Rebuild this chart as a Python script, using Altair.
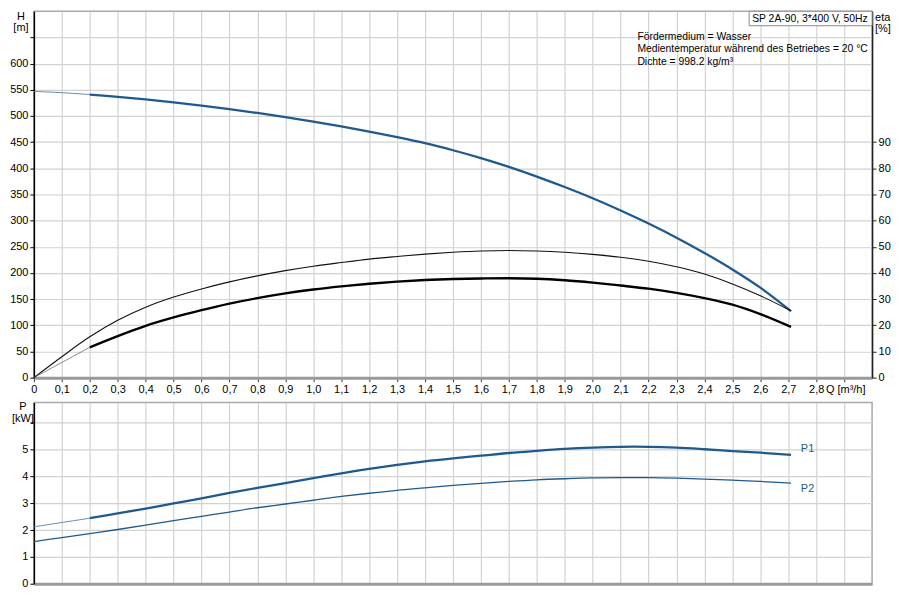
import altair as alt
import pandas as pd

# ---------------- data ----------------
Q = [0.0, 0.1, 0.2, 0.3, 0.4, 0.5, 0.6, 0.7, 0.8, 0.9, 1.0, 1.1, 1.2, 1.3,
     1.4, 1.5, 1.6, 1.7, 1.8, 1.9, 2.0, 2.1, 2.2, 2.3, 2.4, 2.5, 2.6, 2.71]
H = [547, 544.5, 541, 536.7, 531.7, 526.1, 519.9, 513.1, 505.7, 497.7, 489.2, 480, 470.2, 459.6,
     448, 434.5, 419.5, 402.7, 384.2, 364.2, 342.7, 319.5, 294.5, 267.5, 238.3, 206.8, 172, 127]
ETA_PUMP = [0, 8.0, 15.6, 21.9, 26.9, 30.8, 33.9, 36.6, 38.9, 40.9, 42.6, 44.0, 45.3, 46.3,
            47.2, 47.9, 48.4, 48.6, 48.4, 47.9, 47.1, 46.0, 44.5, 42.4, 39.6, 35.8, 31.3, 25.5]
ETA_TOTAL = [0, 5.8, 11.6, 15.9, 19.8, 23.0, 25.8, 28.3, 30.4, 32.2, 33.7, 34.9, 35.9, 36.7,
             37.3, 37.7, 37.9, 38.0, 37.8, 37.2, 36.3, 35.2, 34.0, 32.4, 30.4, 27.9, 24.3, 19.4]
P1 = [2.12, 2.28, 2.44, 2.62, 2.80, 2.99, 3.18, 3.38, 3.57, 3.75, 3.93, 4.11, 4.28, 4.43,
      4.56, 4.67, 4.77, 4.87, 4.95, 5.02, 5.07, 5.10, 5.10, 5.07, 5.01, 4.94, 4.88, 4.80]
P2 = [1.57, 1.72, 1.87, 2.02, 2.18, 2.35, 2.51, 2.67, 2.83, 2.97, 3.11, 3.25, 3.37, 3.48,
      3.57, 3.66, 3.74, 3.81, 3.87, 3.91, 3.94, 3.95, 3.95, 3.93, 3.90, 3.86, 3.81, 3.75]

X_TICKS = [0.0, 0.1, 0.2, 0.3, 0.4, 0.5, 0.6, 0.7, 0.8, 0.9, 1.0, 1.1, 1.2, 1.3, 1.4,
           1.5, 1.6, 1.7, 1.8, 1.9, 2.0, 2.1, 2.2, 2.3, 2.4, 2.5, 2.6, 2.7, 2.8, 2.9]
H_TICKS = [0, 50, 100, 150, 200, 250, 300, 350, 400, 450, 500, 550, 600, 650]
ETA_TICKS = [0, 10, 20, 30, 40, 50, 60, 70, 80, 90]
P_TICKS = [0, 1, 2, 3, 4, 5, 6]

INFO = ["Fördermedium = Wasser",
        "Medientemperatur während des Betriebes = 20 °C",
        "Dichte = 998.2 kg/m³"]
PUMP = "SP 2A-90, 3*400 V, 50Hz"
Q_TITLE = "Q [m³/h]"

# ---------------- styling ----------------
BLUE = "#1f5a8e"
BLUE_THIN = "#5f86ad"
GRID = "#d2d2d2"
FONT = "Liberation Sans"
W, HT, HB = 842, 368, 182
INTERP = "catmull-rom"


def segments(name, vals, field, split, w_thin, w_thick, c_thin, c_thick):
    rows = []
    for q, v in zip(Q, vals):
        if split:
            if q <= 0.2 + 1e-9:
                rows.append({"Q": q, field: v, "key": name + "_a", "w": w_thin, "c": c_thin})
            if q >= 0.2 - 1e-9:
                rows.append({"Q": q, field: v, "key": name + "_b", "w": w_thick, "c": c_thick})
        else:
            rows.append({"Q": q, field: v, "key": name, "w": w_thick, "c": c_thick})
    return rows


h_df = pd.DataFrame(segments("H", H, "H", True, 1.0, 2.3, BLUE_THIN, BLUE))
eta_df = pd.DataFrame(
    segments("pump", ETA_PUMP, "eta", False, 1.0, 1.1, "#111111", "#111111")
    + segments("total", ETA_TOTAL, "eta", True, 0.8, 2.4, "#666666", "#000000"))
p_df = pd.DataFrame(
    segments("P1", P1, "P", True, 1.0, 2.3, BLUE_THIN, BLUE)
    + segments("P2", P2, "P", False, 1.3, 1.3, BLUE, BLUE))

x_scale = alt.Scale(domain=[0, 3.0], nice=False, zero=False)
x_label_expr = ("datum.value > 2.85 ? '' : (datum.value == 0 ? '0' : "
                "replace(format(datum.value, '.1f'), '.', ','))")

x_top = alt.X("Q:Q", scale=x_scale, axis=alt.Axis(
    values=X_TICKS, labelExpr=x_label_expr, title=None, grid=True, gridColor=GRID,
    gridWidth=1.2, domainColor="#9a9a9a", domainWidth=3, tickColor="#333333",
    tickSize=4, labelFont=FONT, labelFontSize=11, labelColor="#000000",
    labelPadding=2, labelOverlap=False, labelFlush=False))

x_bot = alt.X("Q:Q", scale=x_scale, axis=alt.Axis(
    values=X_TICKS, labels=False, ticks=False, title=None, grid=True, gridColor=GRID,
    gridWidth=1.2, domainColor="#9a9a9a", domainWidth=3))

left_axis = dict(title=None, grid=True, gridColor=GRID, gridWidth=1.2,
                 domainColor="#000000", domainWidth=1.5, tickColor="#000000",
                 tickSize=4, labelFont=FONT, labelFontSize=11, labelColor="#000000",
                 labelPadding=2, labelOverlap=False)

y_h = alt.Y("H:Q", scale=alt.Scale(domain=[0, 700], nice=False),
            axis=alt.Axis(values=H_TICKS, labelExpr="datum.value > 600 ? '' : datum.label",
                          **left_axis))
y_eta = alt.Y("eta:Q", scale=alt.Scale(domain=[0, 140], nice=False),
              axis=alt.Axis(orient="right", values=ETA_TICKS, title=None, grid=False,
                            domainColor="#222222", domainWidth=1.5, tickColor="#222222",
                            tickSize=4, labelFont=FONT, labelFontSize=11,
                            labelColor="#000000", labelPadding=2, labelOverlap=False))
y_p = alt.Y("P:Q", scale=alt.Scale(domain=[0, 6.75], nice=False),
            axis=alt.Axis(values=P_TICKS, labelExpr="datum.value > 5 ? '' : datum.label",
                          **left_axis))

h_line = alt.Chart(h_df).mark_line(interpolate=INTERP).encode(
    x=x_top, y=y_h, detail="key:N",
    color=alt.Color("c:N", scale=None),
    strokeWidth=alt.StrokeWidth("w:Q", scale=None),
)

eta_line = alt.Chart(eta_df).mark_line(interpolate=INTERP).encode(
    x=x_top, y=y_eta, detail="key:N",
    color=alt.Color("c:N", scale=None),
    strokeWidth=alt.StrokeWidth("w:Q", scale=None),
)

info_df = pd.DataFrame({"Q": [2.16, 2.16, 2.16], "t": INFO, "py": [25.6, 38.3, 51.1]})
info_text = alt.Chart(info_df).mark_text(
    align="left", baseline="middle", font=FONT, fontSize=10.4, color="#000000"
).encode(x=x_top, y=alt.Y("py:Q", scale=None), text="t:N")

box_df = pd.DataFrame({"Q": [2.56], "Q2": [3.0], "t": [PUMP]})
box = alt.Chart(box_df).mark_rect(fill="white", stroke="#8a8a8a", strokeWidth=1).encode(
    x=x_top, x2="Q2:Q", y=alt.value(0), y2=alt.value(14.5))
box_text = alt.Chart(box_df).mark_text(
    align="left", baseline="middle", font=FONT, fontSize=10.4, color="#000000", dx=3
).encode(x=x_top, y=alt.value(7.5), text="t:N")

qt_df = pd.DataFrame({"Q": [2.835], "t": [Q_TITLE], "py": [HT + 12]})
q_title = alt.Chart(qt_df).mark_text(
    align="left", baseline="middle", font=FONT, fontSize=11, color="#000000"
).encode(x=x_top, y=alt.Y("py:Q", scale=None), text="t:N")

unit_df = pd.DataFrame({"t": ["H", "[m]"], "py": [6, 17]})
h_unit = alt.Chart(unit_df).mark_text(
    align="center", baseline="middle", font=FONT, fontSize=11, color="#000000"
).encode(x=alt.value(-13), y=alt.Y("py:Q", scale=None), text="t:N")

eta_unit_df = pd.DataFrame({"t": ["eta", "[%]"], "py": [7, 18]})
eta_unit = alt.Chart(eta_unit_df).mark_text(
    align="left", baseline="middle", font=FONT, fontSize=11, color="#000000"
).encode(x=alt.value(W + 3), y=alt.Y("py:Q", scale=None), text="t:N")

top = alt.layer(h_line, eta_line, info_text, box, box_text, q_title, h_unit,
                eta_unit).resolve_scale(y="independent").properties(width=W, height=HT)

p_line = alt.Chart(p_df).mark_line(interpolate=INTERP).encode(
    x=x_bot, y=y_p, detail="key:N",
    color=alt.Color("c:N", scale=None),
    strokeWidth=alt.StrokeWidth("w:Q", scale=None),
)

plab_df = pd.DataFrame({"Q": [2.745, 2.745], "P": [5.0, 3.51], "t": ["P1", "P2"]})
p_lab = alt.Chart(plab_df).mark_text(
    align="left", baseline="middle", font=FONT, fontSize=11, color=BLUE
).encode(x=x_bot, y=y_p, text="t:N")

punit_df = pd.DataFrame({"t": ["P", "[kW]"], "py": [5, 17]})
p_unit = alt.Chart(punit_df).mark_text(
    align="center", baseline="middle", font=FONT, fontSize=11, color="#000000"
).encode(x=alt.value(-11), y=alt.Y("py:Q", scale=None), text="t:N")

bottom = alt.layer(p_line, p_lab, p_unit).properties(width=W, height=HB)

chart = alt.vconcat(top, bottom, spacing=5).properties(
    padding=0, background="white"
).configure_view(stroke="#a8a8a8", strokeWidth=1.5)

chart.save("out.html", embed_options={"renderer": "svg", "actions": False})
